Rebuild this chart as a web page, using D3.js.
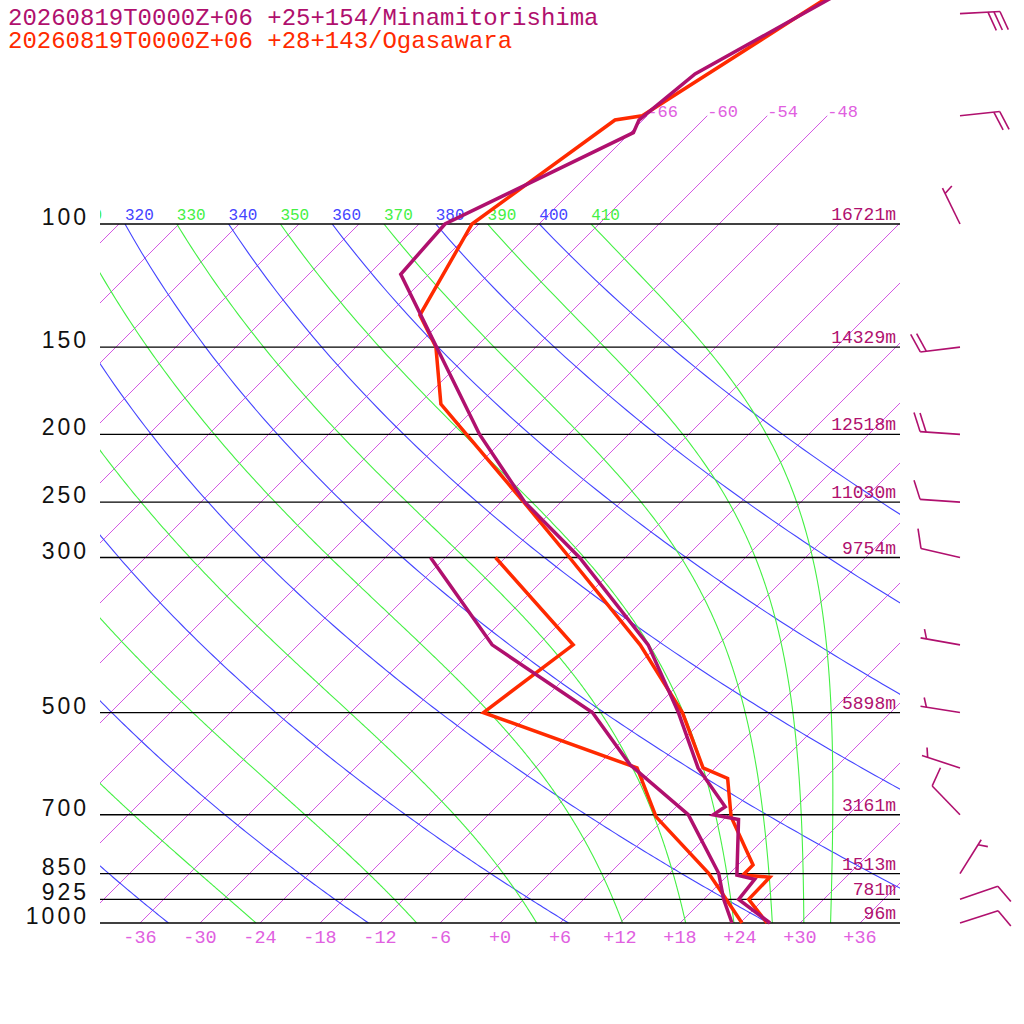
<!DOCTYPE html>
<html>
<head>
<meta charset="utf-8">
<script src="https://cdn.jsdelivr.net/npm/d3@7"></script>
<style>
  body { margin: 0; background: #fff; }
  text { font-family: "Liberation Mono", monospace; }
</style>
</head>
<body>
<svg id="chart" width="1024" height="1024"></svg>
<script>
// station titles
const titles = ["20260819T0000Z+06 +25+154/Minamitorishima", "20260819T0000Z+06 +28+143/Ogasawara"];

// Minamitorishima (A) temperature / dewpoint
const presA = [1000, 925, 866, 854, 711, 700, 682, 600, 500, 400, 300, 250, 200, 118, 100, 74, 71, 61, 50, 40];
const tempA = [27.0, 21.5, 21.1, 18.9, 13.5, 10.5, 10.9, 4.3, -3.2, -13.0, -28.6, -39.6, -50.9, -74.8, -75.4, -65.7, -66.4, -65.4, -60.6, -55.3];
const dewPresA = [1000, 925, 849, 700, 594, 500, 400, 300];
const dewA = [23.2, 20.0, 16.9, 8.0, -2.8, -11.8, -28.6, -43.5];

// Ogasawara (B) temperature / dewpoint
const presB = [1000, 925, 860, 854, 826, 705, 621, 600, 500, 400, 300, 250, 181, 150, 135, 100, 71, 70, 50, 40];
const tempB = [26.7, 22.5, 22.4, 19.5, 19.5, 12.5, 8.3, 4.8, -2.8, -13.8, -29.6, -39.7, -57.8, -64.0, -68.8, -72.7, -68.8, -66.5, -60.7, -56.9];
const dewPresB = [1000, 897, 849, 705, 600, 500, 400, 300];
const dewB = [24.2, 18.7, 15.9, 5.0, -1.8, -22.7, -20.5, -37.0];

// standard levels and heights (A)
const levelPres = [100, 150, 200, 250, 300, 500, 700, 850, 925, 1000];
const levelHgt = [16721, 14329, 12518, 11030, 9754, 5898, 3161, 1513, 781, 96];

// wind (A): direction in degrees, speed in knots
const windPres = [50, 70, 100, 150, 200, 250, 300, 400, 500, 600, 700, 850, 925, 1000];
const windDir = [87, 84, 334, 263, 274, 274, 283, 280, 279, 288, 316, 32, 71, 72];
const windSpd = [30, 20, 5, 20, 20, 10, 10, 5, 5, 5, 10, 5, 10, 10];

// tick labels
const tempTicks = [-36, -30, -24, -18, -12, -6, 0, 6, 12, 18, 24, 30, 36];
const topIsoTicks = [-66, -60, -54, -48];
const dryThetas = [240, 260, 280, 300, 320, 340, 360, 380, 400];
const moistThetas = [230, 250, 270, 290, 310, 330, 350, 370, 390, 410];

const colA = "#b0106e", colB = "#ff2a00";
const colIso = "#d458e4", colDry = "#4444ff", colMoist = "#44f044";

const svg = d3.select("#chart");
svg.append("rect").attr("width", 1024).attr("height", 1024).attr("fill", "#fff");

// 比例尺: log-p and skewed temperature
const yP = d3.scaleLog().domain([1000, 100]).range([923, 224]);
const xT = d3.scaleLinear().domain([-40, 40]).range([100, 900]);
const skewX = (t, p) => xT(t) + (yP(1000) - yP(p));
const K = 0.2857;

svg.append("clipPath").attr("id", "box")
  .append("rect").attr("x", 100).attr("y", yP(100)).attr("width", 800).attr("height", yP(1000) - yP(100));
svg.append("clipPath").attr("id", "top")
  .append("rect").attr("x", 100).attr("y", 0).attr("width", 800).attr("height", yP(100));

const grid = svg.append("g").attr("clip-path", "url(#box)");
const line = d3.line().x(d => skewX(d[1], d[0])).y(d => yP(d[0]));

// isotherms
d3.range(-108, 37, 6).forEach(t => {
  grid.append("path").attr("d", line([[1000, t], [100, t]]))
    .attr("stroke", colIso).attr("stroke-width", 1).attr("fill", "none");
});
const topG = svg.append("g").attr("clip-path", "url(#top)");
topIsoTicks.forEach(t => {
  topG.append("path").attr("d", line([[100, t], [70, t]]))
    .attr("stroke", colIso).attr("stroke-width", 1).attr("fill", "none");
  svg.append("text").attr("x", skewX(t, 70)).attr("y", yP(70) + 1)
    .attr("font-size", 17).attr("fill", "#e060e0").text(t);
});

// dry adiabats
const presSteps = d3.range(1000, 99, -5);
dryThetas.forEach(th => {
  const pts = presSteps.map(p => [p, th * Math.pow(p / 1000, K) - 273.15]);
  grid.append("path").attr("d", line(pts))
    .attr("stroke", colDry).attr("stroke-width", 1.1).attr("fill", "none");
});

// moist (pseudo) adiabats, integrated downward from 100 hPa
function dTdp(p, T) {
  const tc = T - 273.15;
  const es = 6.112 * Math.exp(17.67 * tc / (tc + 243.5));
  const rs = 0.622 * es / (p - es);
  const Lv = 2.501e6;
  return (287 * T + Lv * rs) / (p * (1004 + Lv * Lv * rs * 0.622 / (287 * T * T)));
}
moistThetas.forEach(th => {
  let p = 100, T = th * Math.pow(0.1, K);
  const pts = [[p, T - 273.15]];
  const dp = 2;
  while (p < 1000) {
    const k1 = dTdp(p, T), k2 = dTdp(p + dp / 2, T + k1 * dp / 2);
    const k3 = dTdp(p + dp / 2, T + k2 * dp / 2), k4 = dTdp(p + dp, T + k3 * dp);
    T += dp * (k1 + 2 * k2 + 2 * k3 + k4) / 6;
    p += dp;
    pts.push([p, T - 273.15]);
  }
  grid.append("path").attr("d", line(pts))
    .attr("stroke", colMoist).attr("stroke-width", 1.1).attr("fill", "none");
});

// theta labels at 100 hPa
const labG = svg.append("g").attr("clip-path", "url(#top)");
dryThetas.filter(th => th >= 320).forEach(th => {
  labG.append("text").attr("x", skewX(th * Math.pow(0.1, K) - 273.15, 100)).attr("y", 220)
    .attr("font-size", 16).attr("fill", colDry).text(th);
});
moistThetas.filter(th => th >= 310).forEach(th => {
  labG.append("text").attr("x", skewX(th * Math.pow(0.1, K) - 273.15, 100)).attr("y", 220)
    .attr("font-size", 16).attr("fill", colMoist).text(th);
});

// isobars
levelPres.forEach((p, i) => {
  svg.append("line").attr("x1", 100).attr("x2", 900).attr("y1", yP(p)).attr("y2", yP(p))
    .attr("stroke", "#000").attr("stroke-width", 1.4);
  svg.append("text").attr("x", 89).attr("y", yP(p) + 1).attr("text-anchor", "end")
    .style("font-family", "'Liberation Sans', sans-serif")
    .attr("font-size", 23).attr("letter-spacing", 3).attr("fill", "#111").text(p);
  svg.append("text").attr("x", 896).attr("y", yP(p) - 4).attr("text-anchor", "end")
    .attr("font-size", 18).attr("fill", colA).text(levelHgt[i] + "m");
});

// temperature axis labels
tempTicks.forEach(t => {
  svg.append("text").attr("x", xT(t)).attr("y", 943).attr("text-anchor", "middle")
    .attr("font-size", 18.5).attr("fill", "#e060e0").text(t >= 0 ? "+" + t : String(t));
});

// profiles
const zip = (a, b) => a.map((p, i) => [p, b[i]]);
[[dewPresB, dewB, colB], [dewPresA, dewA, colA], [presB, tempB, colB], [presA, tempA, colA]].forEach(([ps, ts, c]) => {
  svg.append("path").attr("d", line(zip(ps, ts)))
    .attr("stroke", c).attr("stroke-width", 3.5).attr("fill", "none");
});

// wind barbs
const barbG = svg.append("g").attr("stroke", colA).attr("stroke-width", 1.6).attr("fill", "none");
windPres.forEach((p, i) => {
  const a = windDir[i] * Math.PI / 180;
  const ux = Math.sin(a), uy = -Math.cos(a);
  const px = -uy, py = ux;
  const bx = 960, by = yP(p);
  const tx = bx + 40 * ux, ty = by + 40 * uy;
  barbG.append("line").attr("x1", bx).attr("y1", by).attr("x2", tx).attr("y2", ty);
  let pos = 0;
  const full = Math.floor(windSpd[i] / 10), half = (windSpd[i] % 10) >= 5;
  const fx = 0.37 * ux + 0.93 * px, fy = 0.37 * uy + 0.93 * py;
  for (let k = 0; k < full; k++) {
    const sx = tx - 6 * pos * ux, sy = ty - 6 * pos * uy;
    barbG.append("line").attr("x1", sx).attr("y1", sy).attr("x2", sx + 20 * fx).attr("y2", sy + 20 * fy);
    pos++;
  }
  if (half) {
    if (pos === 0) pos = 1;
    const sx = tx - 6 * pos * ux, sy = ty - 6 * pos * uy;
    barbG.append("line").attr("x1", sx).attr("y1", sy).attr("x2", sx + 10 * fx).attr("y2", sy + 10 * fy);
  }
});

// titles
titles.forEach((t, i) => {
  svg.append("text").attr("x", 8).attr("y", 25 + i * 23).attr("font-size", 24)
    .attr("fill", i === 0 ? colA : colB).text(t);
});
</script>
</body>
</html>
